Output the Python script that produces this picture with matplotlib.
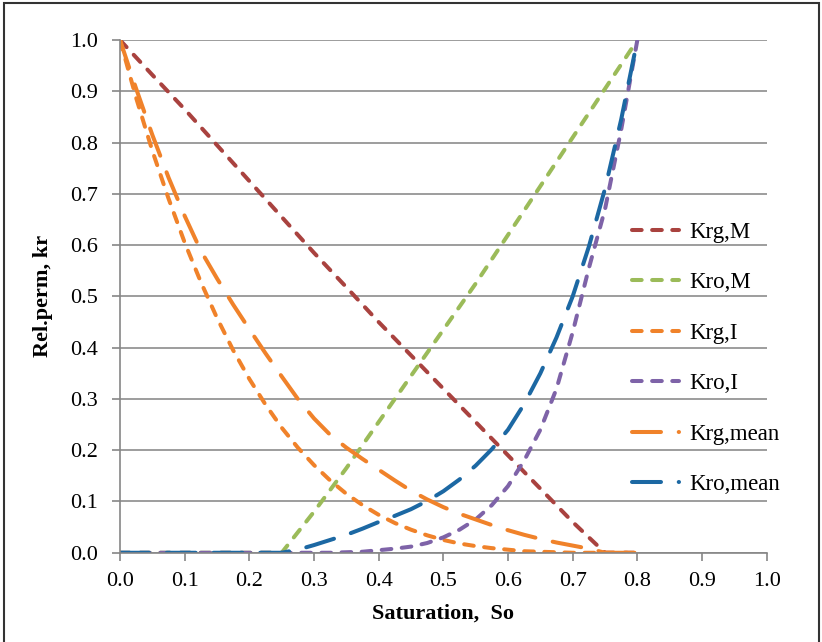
import matplotlib.pyplot as plt
from matplotlib.patches import Rectangle

# oil saturation: coarse grid for the straight curves, fine grid for the bent ones
so = [0.00, 0.05, 0.10, 0.15, 0.20, 0.25, 0.30, 0.35, 0.40,
      0.45, 0.50, 0.55, 0.60, 0.65, 0.70, 0.75, 0.80]
so_fine = [i * 0.025 for i in range(33)]

krg_m = [1.000, 0.932, 0.865, 0.795, 0.725, 0.655, 0.585, 0.518, 0.450,
         0.385, 0.320, 0.255, 0.190, 0.125, 0.060, 0.000, 0.000]
kro_m = [0.000, 0.000, 0.000, 0.000, 0.000, 0.000, 0.080, 0.165, 0.255,
         0.345, 0.435, 0.525, 0.620, 0.715, 0.810, 0.905, 1.000]
krg_i = [1.000, 0.887, 0.784, 0.691, 0.605, 0.528, 0.458, 0.395, 0.339,
         0.289, 0.244, 0.205, 0.171, 0.141, 0.115, 0.093, 0.074, 0.058,
         0.045, 0.034, 0.025, 0.018, 0.013, 0.009, 0.006, 0.003, 0.002,
         0.001, 0.000, 0.000, 0.000, 0.000, 0.000]
kro_i = [0.000, 0.000, 0.000, 0.000, 0.000, 0.000, 0.000, 0.000, 0.000,
         0.000, 0.000, 0.000, 0.000, 0.000, 0.001, 0.002, 0.005, 0.008,
         0.012, 0.019, 0.030, 0.045, 0.065, 0.093, 0.130, 0.180, 0.240,
         0.320, 0.430, 0.555, 0.670, 0.825, 1.000]
krg_mean = [1.000, 0.905, 0.815, 0.732, 0.657, 0.589, 0.535, 0.484, 0.436,
            0.389, 0.344, 0.300, 0.262, 0.230, 0.205, 0.183, 0.162, 0.141,
            0.121, 0.104, 0.089, 0.076, 0.065, 0.054, 0.044, 0.035, 0.027,
            0.020, 0.014, 0.008, 0.000, 0.000, 0.000]
kro_mean = [0.000, 0.000, 0.000, 0.000, 0.000, 0.000, 0.000, 0.000, 0.000,
            0.000, 0.000, 0.006, 0.015, 0.025, 0.035, 0.047, 0.060, 0.072,
            0.085, 0.101, 0.120, 0.143, 0.170, 0.202, 0.240, 0.290, 0.350,
            0.420, 0.500, 0.597, 0.710, 0.845, 1.000]

series = [
    ('Krg,M', so, krg_m, '#A9423F', 'short'),
    ('Kro,M', so, kro_m, '#9BBB59', 'short'),
    ('Krg,I', so_fine, krg_i, '#F0822A', 'short'),
    ('Kro,I', so_fine, kro_i, '#7E63A8', 'short'),
    ('Krg,mean', so_fine, krg_mean, '#F0822A', 'long'),
    ('Kro,mean', so_fine, kro_mean, '#1C68A3', 'long'),
]
# round caps add half a line width to both ends of every dash
dash_styles = {'short': (2.4, 2.6), 'long': (7.2, 4.4)}

plt.rcParams['font.family'] = ['Liberation Serif', 'DejaVu Serif']

fig = plt.figure(figsize=(8.22, 6.42), dpi=100)
ax = fig.add_axes([0.146, 0.139, 0.7867, 0.7986])

for label, x, values, color, style in series:
    ax.plot(x, values, color=color, lw=2.9, label=label,
            dashes=dash_styles[style], dash_capstyle='round')

ax.set_xlim(0, 1.0)
ax.set_ylim(0, 1.0)
ticks = [i / 10 for i in range(11)]
ax.set_xticks(ticks)
ax.set_yticks(ticks)
ax.set_xticklabels([f'{t:.1f}' for t in ticks])
ax.set_yticklabels([f'{t:.1f}' for t in ticks])
ax.tick_params(axis='both', direction='out', length=6, width=1.2,
               color='#868686', labelsize=16)
ax.tick_params(axis='x', pad=8)
ax.tick_params(axis='y', pad=10)

ax.grid(axis='y', color='#8C8C8C', lw=1.2)
ax.set_axisbelow(True)
ax.spines[['right', 'top']].set_visible(False)
ax.spines[['left', 'bottom']].set_color('#868686')
ax.spines[['left', 'bottom']].set_linewidth(1.2)

ax.set_xlabel('Saturation,  So', fontsize=16, fontweight='bold', labelpad=9)
ax.set_ylabel('Rel.perm, kr', fontsize=16, fontweight='bold', labelpad=12)

ax.legend(loc='upper left', bbox_to_anchor=(0.792, 0.645), frameon=False,
          fontsize=16.5, handlelength=2.05, handletextpad=0.45,
          labelspacing=1.28, borderpad=0, borderaxespad=0)

# thin frame around the whole chart
fig.patches.append(Rectangle((4 / 822, -0.02), 815 / 822, 1.02 - 3 / 642,
                             transform=fig.transFigure, fill=False,
                             edgecolor='#333333', lw=1.5))

fig.savefig('out.png', dpi=100)
